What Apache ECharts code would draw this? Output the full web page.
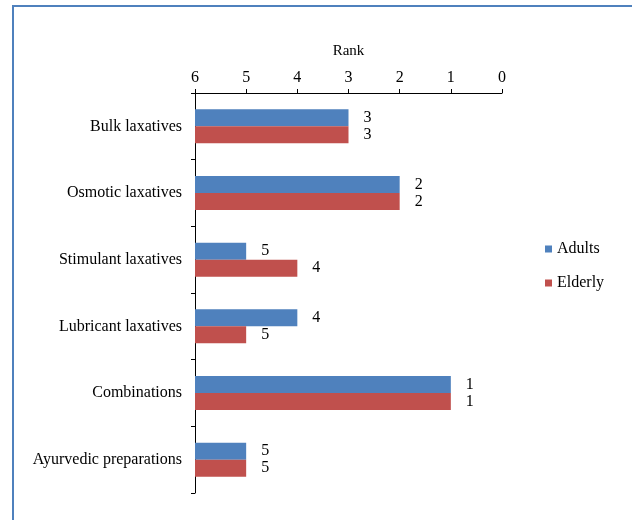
<!DOCTYPE html>
<html>
<head>
<meta charset="utf-8">
<script src="https://cdn.jsdelivr.net/npm/echarts@6/dist/echarts.min.js"></script>
<style>html,body{margin:0;padding:0;background:#fff}#c{width:632px;height:520px}</style>
</head>
<body>
<div id="c"></div>
<script>
const categories = ['Bulk laxatives','Osmotic laxatives','Stimulant laxatives','Lubricant laxatives','Combinations','Ayurvedic preparations'];
const adults = [3, 2, 5, 4, 1, 5];
const elderly = [3, 2, 4, 5, 1, 5];
const seriesNames = ['Adults', 'Elderly'];
const rankMin = 0, rankMax = 6, rankInterval = 1;

const font = '"Liberation Serif", "Times New Roman", serif';
const chart = echarts.init(document.getElementById('c'), null, {renderer: 'canvas'});
const labelCfg = {show: true, position: 'right', distance: 15, color: '#000', fontFamily: font, fontSize: 16};
chart.setOption({
  animation: false,
  backgroundColor: '#fff',
  textStyle: {fontFamily: font},
  graphic: [{
    type: 'rect', shape: {x: 13, y: 6, width: 640, height: 540},
    style: {fill: 'none', stroke: '#4F81BD', lineWidth: 2}, silent: true
  }],
  grid: {left: 195, right: 130, top: 93, bottom: 27, containLabel: false},
  legend: {
    orient: 'vertical', left: 545, top: 241, padding: 0, itemWidth: 7, itemHeight: 7, itemGap: 18,
    data: seriesNames, icon: 'rect',
    textStyle: {fontFamily: font, fontSize: 16, color: '#000'}
  },
  xAxis: {
    type: 'value', position: 'top', inverse: true, min: rankMin, max: rankMax, interval: rankInterval,
    startValue: rankMax,
    name: 'Rank', nameLocation: 'middle', nameGap: 34,
    nameTextStyle: {fontFamily: font, fontSize: 15, color: '#000'},
    axisLine: {show: true, lineStyle: {color: '#000', width: 1}},
    axisTick: {show: true, length: 4, lineStyle: {color: '#000'}},
    axisLabel: {margin: 7, fontFamily: font, fontSize: 16, color: '#000'},
    splitLine: {show: false}
  },
  yAxis: {
    type: 'category', inverse: true, data: categories, position: 'left',
    axisLine: {show: true, onZero: false, lineStyle: {color: '#000', width: 1}},
    axisTick: {show: true, length: 4, lineStyle: {color: '#000'}},
    axisLabel: {margin: 13, fontFamily: font, fontSize: 16, color: '#000'}
  },
  series: [
    {name: seriesNames[0], type: 'bar', data: adults, barWidth: 17, barGap: '0%',
     itemStyle: {color: '#4F81BD'}, label: labelCfg},
    {name: seriesNames[1], type: 'bar', data: elderly, barWidth: 17, barGap: '0%',
     itemStyle: {color: '#C0504D'}, label: labelCfg}
  ]
});
</script>
</body>
</html>
